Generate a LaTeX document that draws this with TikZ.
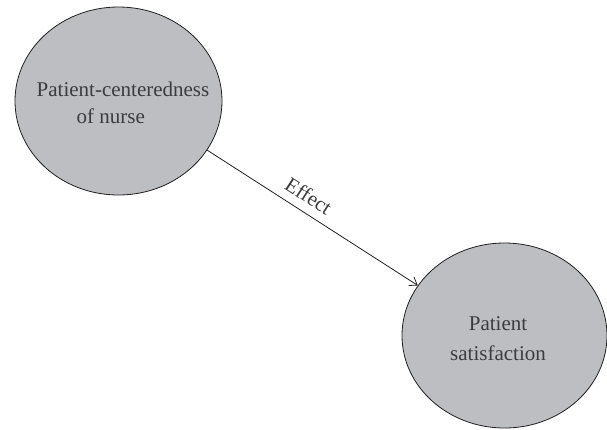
\documentclass[tikz,border=0pt]{standalone}
\usepackage{fontspec}
\setmainfont{Liberation Serif}
\usetikzlibrary{shapes.geometric, arrows.meta}

\definecolor{bubblefill}{RGB}{189,190,193}
\definecolor{inkline}{RGB}{35,31,32}
\definecolor{inktext}{RGB}{60,60,62}

\begin{document}
\begin{tikzpicture}[x=1pt, y=-1pt,
  every node/.style={font=\fontsize{21}{27}\selectfont, text=inktext},
  bubble/.style={ellipse, draw=inkline, fill=bubblefill, line width=0.8pt, inner sep=0pt}]

\useasboundingbox (0, 0) rectangle (607, 429);

% Patient-centeredness of nurse (left ellipse)
\node[bubble, minimum width=207pt, minimum height=188pt] (nurse) at (118.5, 101) {};
\node[align=left] (nursetext) at (123, 103) {Patient-centeredness\\\hspace*{40pt}of nurse};

% Patient satisfaction (right ellipse)
\node[bubble, minimum width=205pt, minimum height=185pt] (satis) at (504.5, 335.5) {};
\node[align=center, font=\fontsize{21}{30}\selectfont] (satistext) at (498, 339) {Patient\\satisfaction};

% Effect arrow
\draw[-{Straight Barb[length=7pt, width=10pt]}, draw=inkline, line width=0.8pt]
  (nurse.-29.5) -- node[pos=0.44, above=5pt, sloped] (effect) {Effect} (satis.150.9);

\end{tikzpicture}
\end{document}
